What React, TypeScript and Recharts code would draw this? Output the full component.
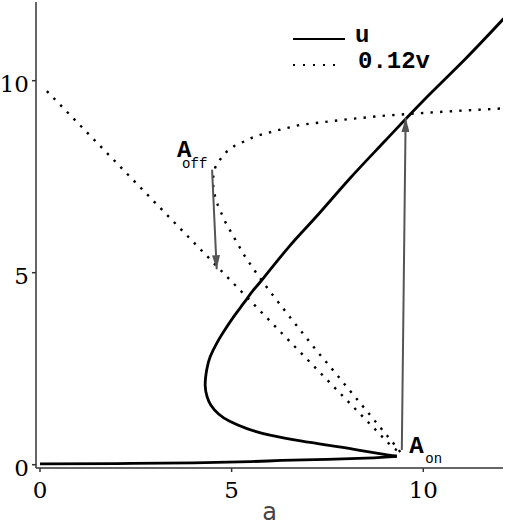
import React from 'react';
import { LineChart, Line, XAxis, YAxis, ReferenceDot, Legend } from 'recharts';

// u: lower branch up to the A_on fold, then back through the left fold and up
const uLowerA = [0, 2, 4, 5.5, 6.3, 7.5, 8.5, 8.9, 9.31];
const uLowerU = [0.02, 0.03, 0.05, 0.08, 0.11, 0.14, 0.17, 0.19, 0.22];
const uFoldA = [9.31, 8.9, 8.2, 7.5, 6.8, 6.0, 5.4, 4.95, 4.66, 4.46, 4.36, 4.31, 4.35, 4.44, 4.61, 4.79, 5.05, 5.31, 5.57, 5.79, 6.5, 7.2, 8.09, 9.0, 10.0, 11.09, 12.1];
const uFoldU = [0.22, 0.28, 0.4, 0.51, 0.62, 0.77, 0.94, 1.13, 1.32, 1.55, 1.77, 2.07, 2.47, 2.81, 3.16, 3.46, 3.85, 4.2, 4.55, 4.81, 5.68, 6.45, 7.46, 8.43, 9.48, 10.56, 11.62];

// 0.12v: straight leg down to A_on, then middle branch up to A_off and the upper branch
const vLegA = [0.18, 9.22, 9.4];
const vLegV = [9.73, 0.43, 0.33];
const vFoldA = [9.4, 9.31, 8.4, 7.53, 7.2, 6.5, 5.94, 5.64, 5.35, 5.09, 4.83, 4.64, 4.55, 4.5, 4.57, 4.7, 4.87, 5.07, 5.31, 5.54, 5.79, 6.28, 6.79, 7.29, 8.05, 9.0, 10.0, 11.0, 12.1];
const vFoldV = [0.33, 0.45, 1.55, 2.6, 2.99, 3.87, 4.59, 5.0, 5.42, 5.87, 6.33, 6.76, 7.05, 7.4, 7.74, 7.95, 8.15, 8.3, 8.41, 8.52, 8.6, 8.73, 8.85, 8.91, 9.0, 9.09, 9.16, 9.22, 9.28];

// jump arrows
const arrowOffA = [4.49, 4.61];
const arrowOffY = [7.68, 5.09];
const arrowOnA = [9.44, 9.54];
const arrowOnY = [0.38, 9.03];

const xTicks = [0, 5, 10];
const yTicks = [0, 5, 10];

const zip = (xs: number[], ys: number[]) => xs.map((a, i) => ({ a, y: ys[i] }));

const mono = 'Liberation Mono, monospace';
const serif = 'DejaVu Serif, serif';

function XTick({ x, y, payload }: any) {
  return (
    <text x={x} y={y + 24} textAnchor="middle" style={{ fontFamily: serif }} fontSize={23} fill="#000">
      {payload.value}
    </text>
  );
}

function YTick({ x, y, payload }: any) {
  return (
    <text x={x + 1} y={y + 11} textAnchor="end" style={{ fontFamily: serif }} fontSize={23} fill="#000">
      {payload.value}
    </text>
  );
}

function SubLabel({ viewBox, main, sub, dx, dy, sdx, sdy }: any) {
  const x = viewBox.x + viewBox.width / 2;
  const y = viewBox.y + viewBox.height / 2;
  return (
    <text x={x + dx} y={y + dy} style={{ fontFamily: mono }} fill="#000">
      <tspan fontWeight="bold" fontSize={24}>{main}</tspan>
      <tspan x={x + sdx} y={y + sdy} fontSize={14}>{sub}</tspan>
    </text>
  );
}

function CurveLegend() {
  return (
    <svg width={200} height={60}>
      <line x1={8} y1={19} x2={60} y2={19} stroke="#000" strokeWidth={2} />
      <text x={70} y={22} style={{ fontFamily: mono }} fontWeight="bold" fontSize={24} fill="#000">u</text>
      <line x1={8} y1={45} x2={56} y2={45} stroke="#000" strokeWidth={2.2} strokeDasharray="2 8" />
      <text x={73} y={48} style={{ fontFamily: mono }} fontWeight="bold" fontSize={24} fill="#000">0.12v</text>
    </svg>
  );
}

export default function App() {
  const frame = '#333';
  return (
    <div style={{ position: 'absolute', left: 0, top: 0, width: 505, height: 526, background: '#fff' }}>
      <LineChart width={505} height={526} margin={{ top: 2, right: 2, left: 0, bottom: 0 }}>
        <defs>
          <marker id="arrowHead" viewBox="0 0 14 8" refX={14} refY={4} markerWidth={14} markerHeight={8} orient="auto" markerUnits="userSpaceOnUse">
            <path d="M0,0 L14,4 L0,8 z" fill="#555" />
          </marker>
        </defs>
        <XAxis
          type="number"
          dataKey="a"
          domain={[-0.104, 12.08]}
          ticks={xTicks}
          allowDataOverflow
          height={58}
          tickSize={4}
          stroke={frame}
          strokeWidth={1.5}
          tick={<XTick />}
          label={{ value: 'a', position: 'insideBottom', offset: 6, fontSize: 24, fill: '#444', fontFamily: 'DejaVu Sans, sans-serif' }}
        />
        <XAxis xAxisId="top" type="number" orientation="top" domain={[-0.104, 12.08]} height={0} tick={false} tickLine={false} stroke={frame} strokeWidth={1.5} />
        <YAxis
          type="number"
          dataKey="y"
          domain={[-0.086, 12.05]}
          ticks={yTicks}
          allowDataOverflow
          width={36}
          tickSize={4}
          tickMargin={4}
          stroke={frame}
          strokeWidth={1.5}
          tick={<YTick />}
        />
        <YAxis yAxisId="right" type="number" orientation="right" domain={[-0.086, 12.05]} width={0} tick={false} tickLine={false} stroke={frame} strokeWidth={1.5} />
        <Legend verticalAlign="middle" content={() => <CurveLegend />} wrapperStyle={{ top: 20, left: 285, width: 200 }} />

        <Line data={zip(uLowerA, uLowerU)} dataKey="y" type="natural" stroke="#000" strokeWidth={2.8} dot={false} activeDot={false} isAnimationActive={false} />
        <Line data={zip(uFoldA, uFoldU)} dataKey="y" type="natural" stroke="#000" strokeWidth={2.8} dot={false} activeDot={false} isAnimationActive={false} />
        <Line data={zip(vLegA, vLegV)} dataKey="y" type="linear" stroke="#000" strokeWidth={2.4} strokeDasharray="2.4 7.2" dot={false} activeDot={false} isAnimationActive={false} />
        <Line data={zip(vFoldA, vFoldV)} dataKey="y" type="linear" stroke="#000" strokeWidth={2.4} strokeDasharray="2.4 7.2" dot={false} activeDot={false} isAnimationActive={false} />

        <Line data={zip(arrowOffA, arrowOffY)} dataKey="y" type="linear" stroke="#555" strokeWidth={2} markerEnd="url(#arrowHead)" dot={false} activeDot={false} isAnimationActive={false} />
        <Line data={zip(arrowOnA, arrowOnY)} dataKey="y" type="linear" stroke="#555" strokeWidth={2} markerEnd="url(#arrowHead)" dot={false} activeDot={false} isAnimationActive={false} />

        <ReferenceDot x={arrowOffA[0]} y={arrowOffY[0]} r={0} fill="none" stroke="none"
          label={(p: any) => <SubLabel {...p} main="A" sub="off" dx={-35} dy={-13} sdx={-30} sdy={-2} />} />
        <ReferenceDot x={vLegA[2]} y={vLegV[2]} r={0} fill="none" stroke="none"
          label={(p: any) => <SubLabel {...p} main="A" sub="on" dx={9} dy={1} sdx={25} sdy={11} />} />
      </LineChart>
    </div>
  );
}
